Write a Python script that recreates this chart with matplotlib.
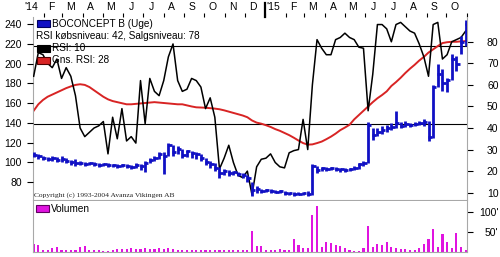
import matplotlib
matplotlib.use("Agg")
import matplotlib.pyplot as plt
import matplotlib.dates as mdates
from matplotlib.patches import Rectangle
from matplotlib.transforms import blended_transform_factory
import pandas as pd

plt.rcParams['font.family'] = ['Liberation Sans', 'DejaVu Sans']

# ---------------- data ----------------
start_date = "2014-01-17"   # first weekly bar

close = [107, 106, 104, 103, 104, 102, 103, 101, 100, 99,
         99, 98, 99, 98, 97, 98, 97, 97, 96, 97,
         96, 95, 97, 96, 99, 102, 104, 108, 106, 117,
         110, 113, 107, 111, 109, 108, 104, 100, 98, 94,
         89, 91, 89, 90, 88, 87, 84, 72, 73, 71,
         72, 71, 70, 71, 69, 69, 68, 68, 69, 68,
         96, 92, 94, 93, 94, 93, 93, 92, 93, 94,
         98, 99, 138, 128, 131, 133, 135, 136, 140, 137,
         139, 138, 139, 140, 141, 126, 176, 190, 180, 183,
         205, 200, 222, 240]

low = [105, 103, 102, 101, 101, 100, 100, 99, 97, 96,
       97, 96, 97, 96, 95, 96, 95, 95, 94, 95,
       94, 93, 94, 92, 90, 99, 101, 103, 88, 106,
       106, 108, 104, 105, 104, 103, 101, 97, 94, 91,
       84, 87, 86, 87, 86, 84, 80, 66, 69, 69,
       70, 69, 69, 69, 67, 67, 66, 67, 67, 66,
       67, 89, 91, 91, 92, 91, 90, 90, 91, 92,
       93, 96, 99, 123, 127, 129, 131, 133, 135, 135,
       136, 136, 137, 138, 137, 122, 125, 176, 172, 171,
       183, 193, 210, 218]

high = [110, 108, 106, 105, 106, 105, 106, 104, 102, 103,
        101, 100, 100, 100, 99, 99, 99, 98, 98, 98,
        98, 97, 99, 98, 101, 104, 106, 110, 110, 120,
        117, 116, 113, 112, 111, 110, 108, 104, 101, 99,
        95, 93, 92, 91, 90, 89, 87, 80, 76, 73,
        73, 73, 72, 72, 71, 70, 70, 70, 70, 71,
        98, 96, 95, 95, 95, 95, 94, 94, 94, 96,
        99, 101, 141, 135, 135, 137, 138, 140, 152, 141,
        142, 140, 141, 142, 144, 142, 178, 200, 195, 186,
        210, 208, 228, 244]

rsi = [64, 75, 74, 70, 68, 72, 63, 68, 64, 55,
       40, 36, 38, 40, 41, 43, 28, 45, 35, 49,
       34, 36, 33, 62, 42, 63, 57, 55, 62, 73,
       79, 62, 57, 58, 63, 62, 59, 49, 54, 45,
       21, 26, 32, 24, 18, 17, 20, 9, 22, 25.5,
       26, 28, 24, 22, 21.5, 28.5, 29.5, 30, 44, 30,
       60, 81, 77, 74, 74, 81, 82, 84, 82, 81,
       77.5, 77, 48, 65, 88, 88, 86, 80, 88, 89,
       87, 85, 84, 79, 73, 64, 88, 89, 72, 74,
       80, 81, 82, 85]

rsi_avg = [48, 51, 53, 54.5, 55.5, 56.5, 57.5, 58.5, 59.3, 60,
           60.3, 60, 59, 57.5, 56, 54.5, 53.3, 52.5, 52, 51.5,
           51, 51, 51.2, 51.4, 51.6, 51.8, 52, 51.8, 51.6, 51.4,
           51.2, 51, 51, 50.5, 50, 49.6, 49.5, 49.4, 49.2, 49,
           48.7, 48.2, 47.6, 47, 46.4, 45.8, 45, 43.5, 42.5, 42,
           41.3, 40.5, 39.5, 38.7, 37.7, 36.7, 35.5, 34.2, 33, 32.3,
           32.4, 33, 33.7, 34.8, 36, 37.4, 39, 40.2, 41.5, 44,
           46, 48, 50, 52, 53.8, 55.3, 57, 59.5, 61.3, 63.3,
           65.5, 67.5, 69.3, 71.3, 73, 75, 76.5, 78, 79.4, 79.8,
           80, 80, 80.2, 80.3]

volume = [21, 17, 4, 5, 11, 12, 4, 4, 5, 4,
          13, 15, 4, 5, 4, 3, 3, 4, 7, 7,
          8, 9, 8, 8, 9, 7, 8, 9, 8, 10,
          7, 6, 4, 5, 4, 5, 4, 4, 5, 4,
          5, 4, 5, 4, 5, 4, 5, 52, 14, 15,
          6, 4, 6, 8, 6, 4, 33, 18, 9, 9,
          92, 114, 12, 24, 22, 17, 14, 9, 4, 3,
          3, 9, 64, 12, 19, 17, 24, 12, 9, 7,
          7, 5, 6, 9, 21, 33, 57, 12, 46, 24,
          9, 48, 12, 5]

month_labels = ["'14", "F", "M", "A", "M", "J", "J", "A", "S", "O", "N", "D",
                "'15", "F", "M", "A", "M", "J", "J", "A", "S", "O"]
price_ticks = [80, 100, 120, 140, 160, 180, 200, 220, 240]
rsi_ticks = [10, 20, 30, 40, 50, 60, 70, 80]
vol_ticks = [50, 100]
vol_tick_labels = ["50'", "100'"]
buy_level = 42
sell_level = 78

legend_title = "BOCONCEPT B (Uge)"
legend_levels = "RSI købsniveau: 42, Salgsniveau: 78"
legend_rsi = "RSI: 10"
legend_avg = "Gns. RSI: 28"
copyright_text = "Copyright (c) 1993-2004 Avanza Vikingen AB"
volume_label = "Volumen"

# ---------------- styling ----------------
BLUE = "#1010c4"
RED = "#d82424"
MAGENTA = "#e014e0"
FRAME = "#a8a8a8"

W, H = 500, 257
def fx(px): return px / W
def fy(py): return 1 - py / H

L, R, T, B1 = 33, 467, 17, 200
V_TOP, V_BOT = 201, 252

fig = plt.figure(figsize=(W / 100, H / 100), dpi=100)
fig.patch.set_facecolor("white")

ax = fig.add_axes([fx(L), fy(B1), (R - L) / W, (B1 - T) / H])   # RSI (right axis)
axp = ax.twinx()                                                # price (left axis)
axv = fig.add_axes([fx(L), fy(V_BOT), (R - L) / W, (V_BOT - V_TOP) / H])

dates = pd.date_range(start_date, periods=len(close), freq="7D")
x = mdates.date2num(dates.to_pydatetime())
x0 = mdates.date2num(pd.Timestamp("2014-01-16").to_pydatetime())
x1 = mdates.date2num(pd.Timestamp("2015-11-01").to_pydatetime())

# RSI lines
ax.axhline(buy_level, color="black", lw=0.8, zorder=1)
ax.axhline(sell_level, color="black", lw=0.8, zorder=1)
ax.plot(x, rsi_avg, color=RED, lw=1.4, zorder=2)
ax.plot(x, rsi, color="black", lw=1.1, zorder=3)
ax.set_xlim(x0, x1)
ax.set_ylim(6.6, 91.5)

# price bars
axp.vlines(x, low, high, color=BLUE, lw=2.0)
axp.hlines(close, x - 0.8, x + 5.0, color=BLUE, lw=2.0)
axp.set_xlim(x0, x1)
axp.set_ylim(61.6, 247.5)

# y axes
axp.set_yticks(price_ticks)
axp.yaxis.tick_left()
axp.tick_params(axis="y", which="both", left=True, right=False, labelleft=True,
                labelright=False, length=4, width=0.8, pad=4, labelsize=7.5)
ax.set_yticks(rsi_ticks)
ax.yaxis.tick_right()
ax.tick_params(axis="y", length=4, width=0.8, pad=18.7, labelsize=7.5)
for t in ax.get_yticklabels():
    t.set_horizontalalignment("right")

# top month axis
ax.xaxis.tick_top()
ax.xaxis.set_major_locator(mdates.MonthLocator())
ax.tick_params(axis="x", which="both", top=True, bottom=False, labeltop=False,
               labelbottom=False, length=3, width=0.8)
trans = blended_transform_factory(ax.transData, ax.transAxes)
months = pd.date_range("2014-01-01", periods=len(month_labels), freq="MS")
for m, lab in zip(months, month_labels):
    xm = mdates.date2num((m + pd.Timedelta(days=12)).to_pydatetime())
    ax.text(xm, 1.052, lab, transform=trans, ha="center", va="center",
            fontsize=7.5, clip_on=False)
yr = mdates.date2num(pd.Timestamp("2015-01-01").to_pydatetime())
ax.plot([yr, yr], [1.0, 1.075], transform=trans, color="black", lw=1.6,
        clip_on=False)

for s in ["left", "right", "bottom"]:
    ax.spines[s].set_color(FRAME)
ax.spines["top"].set_visible(False)
for s in axp.spines.values():
    s.set_visible(False)

# volume
axv.bar(x, volume, width=3.2, color=MAGENTA)
axv.set_xlim(x0, x1)
axv.set_ylim(0, 127)
axv.set_xticks([])
axv.set_yticks(vol_ticks)
axv.set_yticklabels(vol_tick_labels)
axv.yaxis.tick_right()
axv.tick_params(axis="y", length=4, width=0.8, pad=18.7, labelsize=7.5)
for t in axv.get_yticklabels():
    t.set_horizontalalignment("right")
for s in ["left", "right", "bottom"]:
    axv.spines[s].set_color(FRAME)
axv.spines["top"].set_visible(False)

# legends (manual, like the original)
def rect(px0, py0, px1, py1, fc, ec):
    fig.add_artist(Rectangle((fx(px0), fy(py1)), (px1 - px0) / W, (py1 - py0) / H,
                             transform=fig.transFigure, facecolor=fc,
                             edgecolor=ec, lw=0.8))

rect(37, 20.5, 50, 27, BLUE, "#000060")
fig.text(fx(52.5), fy(24), legend_title, fontsize=7.2, va="center", ha="left")
fig.text(fx(36), fy(36), legend_levels, fontsize=7.2, va="center", ha="left")
rect(37, 45, 50, 51.5, "black", "black")
fig.text(fx(52.5), fy(48), legend_rsi, fontsize=7.2, va="center", ha="left")
rect(37, 57, 50, 63.5, RED, "#500000")
fig.text(fx(52.5), fy(60), legend_avg, fontsize=7.2, va="center", ha="left")

fig.text(fx(34), fy(195), copyright_text, fontsize=5.4, va="center", ha="left",
         family=["Liberation Serif", "DejaVu Serif"], color="#202020")

rect(36, 205, 49, 211.5, MAGENTA, "#600060")
fig.text(fx(51), fy(208.5), volume_label, fontsize=7.2, va="center", ha="left")

fig.savefig("out.png", dpi=100, facecolor="white")
